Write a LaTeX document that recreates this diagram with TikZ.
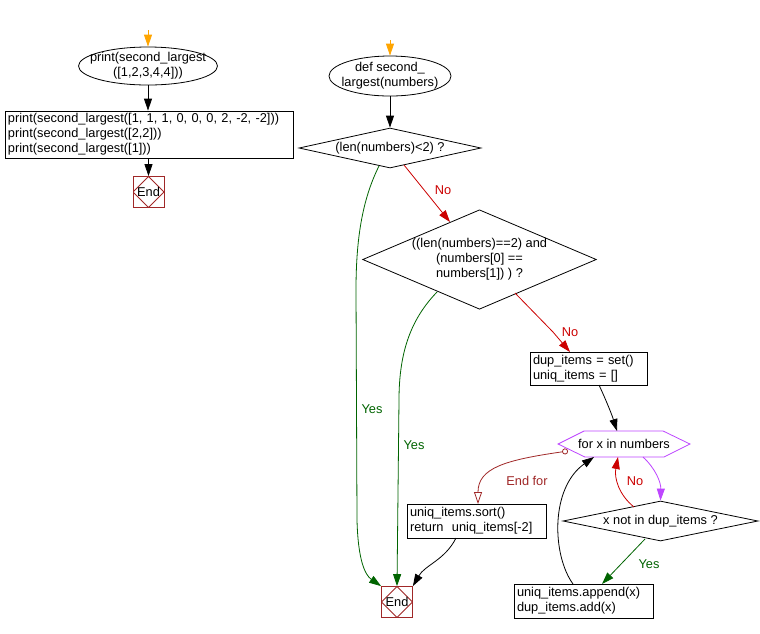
\documentclass[tikz,border=0pt]{standalone}
\usepackage{fontspec}
\setmainfont{Liberation Sans}
\usetikzlibrary{arrows.meta,shapes.geometric}
\definecolor{fgreen}{RGB}{0,100,0}
\definecolor{fred}{RGB}{204,0,0}
\definecolor{fpurple}{RGB}{190,70,255}
\definecolor{forange}{RGB}{255,165,0}
\definecolor{fbrown}{RGB}{160,40,40}
\begin{document}
\begin{tikzpicture}[x=1pt,y=-1pt,
  every node/.style={font=\fontsize{12.8pt}{15pt}\selectfont, inner sep=0pt},
  line width=0.8pt,
  arr/.style={-{Triangle[length=12pt,width=8pt]}},
  box/.style={draw, rectangle, align=left, inner xsep=3pt},
  oval/.style={rectangle, align=center},
  decision/.style={draw, diamond, align=center},
  endbox/.style={draw=fbrown, rectangle, minimum size=31pt,
    path picture={\draw[fbrown] (path picture bounding box.north) -- (path picture bounding box.east) -- (path picture bounding box.south) -- (path picture bounding box.west) -- cycle;}},
  lbl/.style={inner sep=0pt}
]
\useasboundingbox[fill=white] (0,0) rectangle (760,633);

% ---------- left part ----------
\coordinate (s1) at (148,30);
\node[oval, minimum width=139pt, minimum height=38pt] (e1) at (148,66) {print(second\_largest\\([1,2,3,4,4]))};
\draw (e1.center) ellipse [x radius=69.5, y radius=19];
\node[box, text width=282pt, minimum height=47pt] (r1) at (149,134.5)
  {print(second\_largest([1, 1, 1, 0, 0, 0, 2, -2, -2]))\\print(second\_largest([2,2]))\\print(second\_largest([1]))};
\node[endbox] (end1) at (148.5,192) {End};

\draw[arr, forange] (s1) -- (e1.north);
\draw[arr] (e1.south) -- (r1.north -| e1.south);
\draw[arr] (r1.south -| end1.north) -- (end1.north);

% ---------- right part ----------
\coordinate (s2) at (390,40);
\node[oval, minimum width=122pt, minimum height=40pt] (e2) at (390,76) {def second\_\\largest(numbers)};
\draw (e2.center) ellipse [x radius=61, y radius=20];
\node[decision, minimum width=182pt, minimum height=40pt, aspect=4.5] (d1) at (390,148) {(len(numbers)<2) ?};
\node[decision, minimum width=233pt, minimum height=99pt, aspect=2.35] (d2) at (479.5,259.5)
  {((len(numbers)==2) and\\(numbers[0] ==\\numbers[1]) ) ?};
\node[box, text width=111pt, minimum height=33pt] (r2) at (588.5,368.5) {dup\_items = set()\\uniq\_items = []};
\node[minimum width=131pt, minimum height=26pt] (hex) at (624,444) {for x in numbers};
\draw[fpurple] (hex.west) -- ++(26,-13) -- ++(79,0) -- (hex.east) -- ++(-26,13) -- ++(-79,0) -- cycle;
\node[decision, minimum width=195pt, minimum height=40pt, aspect=5] (d3) at (660.5,521) {x not in dup\_items ?};
\node[box, text width=133pt, minimum height=34pt] (r3) at (583.5,601) {uniq\_items.append(x)\\dup\_items.add(x)};
\node[box, text width=133pt, minimum height=34pt] (r4) at (476.5,521) {uniq\_items.sort()\\return\ \ uniq\_items[-2]};
\node[endbox] (end2) at (397,602) {End};

\draw[arr, forange] (s2) -- (e2.north);
\draw[arr] (e2.south) -- (d1.north);

% d1 -> end2 (Yes)
\draw[arr, fgreen] (379,166) .. controls (362,200) and (356,240) .. (356,290)
  -- (357,520) .. controls (358,560) and (365,575) .. (end2.north west);
\node[lbl, text=fgreen] (y1) at (372,409) {Yes};

% d1 -> d2 (No)
\draw[arr, fred] (404,165) -- (450,222);
\node[lbl, text=fred] (n1) at (443,190) {No};

% d2 -> end2 (Yes)
\draw[arr, fgreen] (437,292) .. controls (412,318) and (399,350) .. (399,400) -- (end2.north);
\node[lbl, text=fgreen] (y2) at (414,445) {Yes};

% d2 -> r2 (No)
\draw[arr, fred] (515,293) -- (553,332) -- (570,352);
\node[lbl, text=fred] (n2) at (570,332) {No};

% r2 -> hex
\draw[arr] (599,385) .. controls (606,400) and (612,415) .. (617,431);

% hex -> d3
\draw[arr, fpurple] (643,457) .. controls (655,468) and (661,482) .. (d3.north);

% d3 -> hex (No)
\draw[arr, fred] (634,507) .. controls (619,495) and (614,478) .. (618,457);
\node[lbl, text=fred] (n3) at (635,481) {No};

% d3 -> r3 (Yes)
\draw[arr, fgreen] (645,539) -- (602,584);
\node[lbl, text=fgreen] (y3) at (649,564) {Yes};

% r3 -> hex
\draw[arr] (573,584) .. controls (552,555) and (550,488) .. (594,457);

% hex -> r4 (End for)
\draw[fbrown, {Circle[open,length=6pt,width=6pt]}-{Triangle[open,length=12pt,width=8pt]}]
  (568,451) .. controls (505,460) and (478,468) .. (478,504);
\node[lbl, text=fbrown] (ef) at (527,481) {End for};

% r4 -> end2
\draw[arr] (456,538) .. controls (445,560) and (425,565) .. (end2.north east);
\end{tikzpicture}
\end{document}
